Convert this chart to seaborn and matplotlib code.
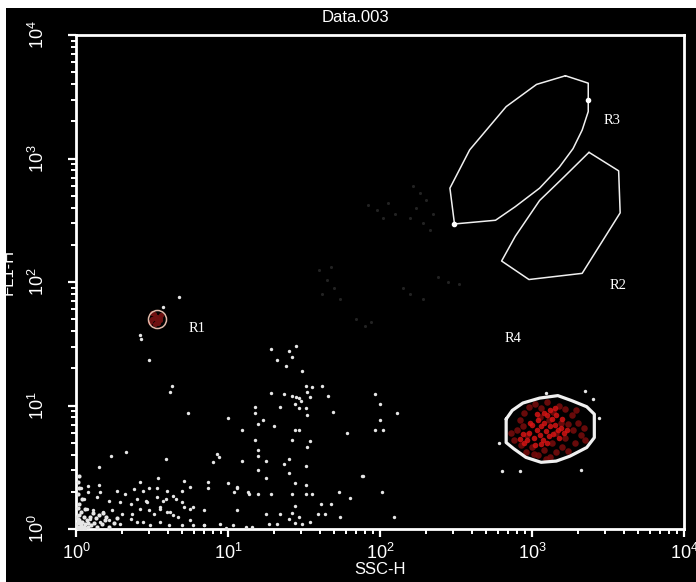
import numpy as np
import pandas as pd
import matplotlib
matplotlib.use("Agg")
import matplotlib.pyplot as plt
from matplotlib.patches import Rectangle
import seaborn as sns

# Events as (log10 SSC-H, log10 FL1-H)
corner_events = [
    (0.01, 0.02), (0.02, 0.05), (0.01, 0.08), (0.03, 0.03), (0.05, 0.02), (0.04, 0.06),
    (0.02, 0.11), (0.06, 0.04), (0.08, 0.02), (0.03, 0.14), (0.01, 0.17), (0.07, 0.07),
    (0.10, 0.03), (0.05, 0.10), (0.12, 0.05), (0.02, 0.20), (0.09, 0.10), (0.14, 0.02),
    (0.04, 0.24), (0.01, 0.28), (0.02, 0.33), (0.01, 0.38), (0.02, 0.43), (0.13, 0.09),
    (0.17, 0.04), (0.11, 0.13), (0.06, 0.16), (0.19, 0.07), (0.22, 0.02), (0.15, 0.11),
    (0.01, 0.01), (0.03, 0.01), (0.00, 0.04), (0.00, 0.10), (0.06, 0.01), (0.08, 0.05),
    (0.25, 0.05), (0.20, 0.10), (0.18, 0.13), (0.27, 0.09), (0.04, 0.02), (0.02, 0.07),
]

low_events = [
    (0.23, 0.59), (0.33, 0.62), (0.15, 0.50), (0.59, 0.57), (0.90, 0.54), (0.94, 0.58),
    (0.93, 0.61), (0.54, 0.41), (0.42, 0.38), (0.71, 0.39), (0.87, 0.38), (0.87, 0.33),
    (0.08, 0.35), (0.15, 0.36), (0.03, 0.33), (1.06, 0.33),
    (0.08, 0.30), (0.16, 0.30), (0.27, 0.31), (0.32, 0.28), (0.38, 0.32), (0.44, 0.31),
    (0.48, 0.33), (0.53, 0.33), (0.60, 0.31), (0.64, 0.27), (0.70, 0.31), (0.75, 0.34),
    (0.05, 0.24), (0.14, 0.26), (0.22, 0.23), (0.29, 0.22), (0.36, 0.20), (0.40, 0.24),
    (0.47, 0.22), (0.53, 0.26), (0.59, 0.24), (0.66, 0.24), (0.71, 0.18), (0.77, 0.18),
    (0.07, 0.16), (0.11, 0.15), (0.18, 0.14), (0.24, 0.15), (0.30, 0.12), (0.37, 0.12),
    (0.42, 0.16), (0.48, 0.15), (0.51, 0.12), (0.55, 0.18), (0.60, 0.14), (0.64, 0.11),
    (0.75, 0.16), (0.84, 0.15),
    (0.09, 0.08), (0.16, 0.06), (0.22, 0.07), (0.29, 0.04), (0.36, 0.08), (0.40, 0.06),
    (0.44, 0.06), (0.49, 0.03), (0.55, 0.06), (0.61, 0.03), (0.70, 0.03), (0.77, 0.03),
    (0.84, 0.03), (0.95, 0.04), (1.03, 0.03), (1.12, 0.02),
    (0.46, 0.23), (0.55, 0.16), (0.62, 0.14), (0.67, 0.10), (0.75, 0.07), (0.84, 0.03),
    (0.70, 0.22), (0.57, 0.23),
]

mid_events = [
    (1.28, 1.46), (1.40, 1.44), (1.45, 1.48), (1.42, 1.39), (1.32, 1.37), (1.38, 1.32),
    (1.49, 1.28), (1.51, 1.16), (1.55, 1.15), (1.62, 1.16), (1.28, 1.10), (1.52, 1.11),
    (1.54, 1.07), (1.37, 1.09), (1.42, 1.08), (1.45, 1.07), (1.47, 1.06), (1.48, 1.04),
    (1.66, 1.08), (1.18, 0.99), (1.34, 0.99), (1.44, 1.01), (1.47, 0.98), (1.51, 0.98),
    (1.69, 0.95), (1.18, 0.94), (1.52, 0.92), (1.00, 0.90), (1.23, 0.88), (1.20, 0.85),
    (1.30, 0.83), (1.09, 0.80), (1.44, 0.80), (1.47, 0.80), (1.78, 0.78), (1.18, 0.72),
    (1.42, 0.72), (1.54, 0.71), (1.52, 0.66), (1.20, 0.64), (1.20, 0.59), (1.09, 0.55),
    (1.25, 0.55), (1.40, 0.57), (1.37, 0.53), (1.51, 0.51), (1.20, 0.48), (1.40, 0.45),
    (1.88, 0.43), (1.25, 0.41), (1.00, 0.37), (1.44, 0.37), (1.06, 0.34), (1.04, 0.30),
    (1.51, 0.36), (1.13, 0.30), (1.14, 0.28), (1.20, 0.28), (1.28, 0.28), (1.42, 0.28),
    (1.51, 0.28), (1.55, 0.28), (1.73, 0.30), (1.80, 0.25), (2.01, 0.30), (1.06, 0.15),
    (1.61, 0.20), (1.68, 0.20), (1.44, 0.19), (1.25, 0.12), (1.34, 0.12), (1.42, 0.13),
    (1.47, 0.10), (1.59, 0.12), (1.64, 0.12), (1.74, 0.10), (1.40, 0.08), (1.44, 0.05),
    (1.27, 0.04), (1.32, 0.04), (1.49, 0.04), (1.54, 0.06), (1.16, 0.02), (0.99, 0.01),
    (1.97, 1.09), (2.00, 1.01), (2.00, 0.88), (1.97, 0.80), (2.02, 0.80), (2.11, 0.94),
    (2.09, 0.10), (0.63, 1.16), (0.62, 1.11), (0.74, 0.94), (1.89, 0.43),
    (0.57, 1.80), (0.68, 1.88), (0.42, 1.57), (0.43, 1.54), (0.48, 1.37),
    (3.35, 1.12), (3.40, 1.05), (3.44, 0.90), (2.78, 0.70), (2.80, 0.47), (2.92, 0.47),
    (3.32, 0.48), (3.09, 1.10),
]

faint_events = [
    (2.22, 2.78), (2.26, 2.72), (2.30, 2.66), (2.24, 2.60), (2.35, 2.55), (2.28, 2.48),
    (2.33, 2.42), (2.20, 2.52), (1.92, 2.62), (1.98, 2.58), (2.05, 2.64), (2.10, 2.55),
    (2.02, 2.52), (1.60, 2.10), (1.65, 2.02), (1.70, 1.95), (1.62, 1.90), (1.74, 1.86),
    (1.68, 2.12), (2.15, 1.95), (2.20, 1.90), (2.28, 1.86), (1.84, 1.70), (1.90, 1.64),
    (1.94, 1.68), (2.38, 2.04), (2.45, 2.00), (2.52, 1.98),
]

r1_events = [
    (0.50, 1.70), (0.53, 1.72), (0.55, 1.69), (0.51, 1.74), (0.54, 1.67), (0.52, 1.71),
    (0.49, 1.68), (0.56, 1.73), (0.52, 1.66), (0.50, 1.75), (0.55, 1.71), (0.53, 1.69),
]

r4_dim_events = [
    (2.88, 0.72), (2.90, 0.80), (2.92, 0.88), (2.93, 0.68), (2.95, 0.94), (2.96, 0.62),
    (2.98, 0.99), (3.00, 0.66), (3.02, 1.01), (3.04, 0.60), (3.06, 0.98), (3.08, 0.64),
    (3.10, 1.03), (3.12, 0.58), (3.14, 0.95), (3.16, 0.62), (3.18, 1.00), (3.20, 0.66),
    (3.22, 0.97), (3.24, 0.63), (3.26, 0.92), (3.28, 0.70), (3.30, 0.86), (3.32, 0.76),
    (3.34, 0.82), (3.27, 0.80), (3.22, 0.74), (3.19, 0.86), (3.13, 0.70), (2.97, 0.76),
    (2.94, 0.83), (3.05, 0.91), (3.11, 0.88), (3.16, 0.78), (3.24, 0.85), (3.29, 0.96),
    (3.35, 0.72), (2.86, 0.78), (3.01, 0.61), (3.09, 0.57),
]

r4_bright_events = [
    (2.98, 0.78), (3.00, 0.84), (3.01, 0.74), (3.03, 0.80), (3.04, 0.88), (3.05, 0.76),
    (3.06, 0.83), (3.07, 0.72), (3.08, 0.86), (3.09, 0.79), (3.10, 0.92), (3.11, 0.75),
    (3.12, 0.83), (3.13, 0.89), (3.14, 0.77), (3.15, 0.84), (3.16, 0.92), (3.17, 0.80),
    (3.18, 0.74), (3.19, 0.82), (3.20, 0.89), (2.92, 0.73), (2.94, 0.77), (2.95, 0.70),
    (2.97, 0.72), (3.02, 0.68), (3.06, 0.69), (3.10, 0.70), (3.12, 0.96), (3.15, 0.98),
    (3.08, 0.94), (3.21, 0.78), (3.03, 0.93), (2.99, 0.86), (3.23, 0.80),
]

# Gate vertices (log10 SSC-H, log10 FL1-H)
gate_r3 = [(3.22, 3.67), (3.37, 3.61), (3.37, 3.47), (3.37, 3.38), (3.33, 3.23),
           (3.27, 3.08), (3.18, 2.93), (3.05, 2.76), (2.89, 2.61), (2.76, 2.50),
           (2.49, 2.47), (2.46, 2.76), (2.59, 3.07), (2.83, 3.42), (3.03, 3.60)]
gate_r3_handles = [(3.37, 3.47), (2.49, 2.47)]
gate_r2 = [(3.375, 3.05), (3.57, 2.90), (3.58, 2.56), (3.33, 2.07), (2.98, 2.02),
           (2.80, 2.17), (2.89, 2.37), (3.05, 2.66), (3.21, 2.85)]
gate_r4 = [(2.83, 0.89), (2.87, 0.96), (2.94, 1.02), (3.05, 1.06), (3.17, 1.08),
           (3.26, 1.04), (3.36, 0.99), (3.41, 0.93), (3.41, 0.74), (3.36, 0.66),
           (3.25, 0.59), (3.16, 0.55), (3.06, 0.54), (2.96, 0.58), (2.88, 0.65),
           (2.83, 0.70)]
gate_r1_center = (0.53, 1.70)

region_labels = ["R1", "R2", "R3", "R4"]
region_label_pos = [(0.74, 1.62), (3.51, 1.97), (3.47, 3.31), (2.82, 1.54)]

decade_ticks = [0, 1, 2, 3, 4]


def to_frame(pairs):
    df = pd.DataFrame(pairs, columns=["SSC-H", "FL1-H"])
    return 10.0 ** df


sns.set_style("dark", {"axes.facecolor": "black", "figure.facecolor": "white"})
plt.rcParams["font.family"] = ["Liberation Sans", "DejaVu Sans"]

fig = plt.figure(figsize=(6.96, 5.82), dpi=100, facecolor="white")
fig.patches.append(Rectangle((6 / 696, 0), 1, 1 - 8 / 582, transform=fig.transFigure,
                             facecolor="black", edgecolor="none", zorder=-10))
ax = fig.add_axes([76 / 696, 1 - 529 / 582, (684 - 76) / 696, (529 - 35) / 582])
ax.set_facecolor("black")

ax.set_xscale("log")
ax.set_yscale("log")

# Faint background events
sns.scatterplot(data=to_frame(faint_events), x="SSC-H", y="FL1-H", ax=ax,
                color="#222222", s=5, linewidth=0, legend=False)

# White events
for pairs, size in [(corner_events, 9), (low_events, 6), (mid_events, 6)]:
    sns.scatterplot(data=to_frame(pairs), x="SSC-H", y="FL1-H", ax=ax,
                    color="#e6e6e6", s=size, linewidth=0, legend=False, zorder=3)

# Red populations
sns.scatterplot(data=to_frame(r4_dim_events), x="SSC-H", y="FL1-H", ax=ax,
                color="#7a0c0c", s=22, alpha=0.85, linewidth=0, legend=False, zorder=3)
sns.scatterplot(data=to_frame(r4_bright_events), x="SSC-H", y="FL1-H", ax=ax,
                color="#d41414", s=16, alpha=0.85, linewidth=0, legend=False, zorder=4)
sns.scatterplot(data=to_frame(r1_events), x="SSC-H", y="FL1-H", ax=ax,
                color="#6e1010", s=14, linewidth=0, legend=False, zorder=3)

# Gates
for verts, lw in [(gate_r3, 1.1), (gate_r2, 1.1), (gate_r4, 2.3)]:
    g = 10.0 ** np.array(verts + verts[:1])
    ax.plot(g[:, 0], g[:, 1], color="#f0f0f0", lw=lw, zorder=5)
h = 10.0 ** np.array(gate_r3_handles)
ax.plot(h[:, 0], h[:, 1], "o", color="white", ms=3, zorder=6)
c = 10.0 ** np.array(gate_r1_center)
ax.plot([c[0]], [c[1]], "o", ms=13, mfc="none", mec="#e0b8a8", mew=1.1, zorder=6)

for name, (lx, ly) in zip(region_labels, region_label_pos):
    ax.text(10 ** lx, 10 ** ly, name, color="white", fontsize=10.5,
            family=["Liberation Serif", "DejaVu Serif"], va="center", ha="left", zorder=7)

ax.set_xlim(1, 1e4)
ax.set_ylim(1, 1e4)

tick_vals = [10.0 ** d for d in decade_ticks]
tick_text = [r"$\mathregular{10^{%d}}$" % d for d in decade_ticks]
ax.set_xticks(tick_vals)
ax.set_xticklabels(tick_text)
ax.set_yticks(tick_vals)
ax.set_yticklabels(tick_text, rotation=90, va="center")
ax.xaxis.set_minor_locator(matplotlib.ticker.LogLocator(base=10, subs=np.arange(2, 10)))
ax.yaxis.set_minor_locator(matplotlib.ticker.LogLocator(base=10, subs=np.arange(2, 10)))
ax.xaxis.set_minor_formatter(matplotlib.ticker.NullFormatter())
ax.yaxis.set_minor_formatter(matplotlib.ticker.NullFormatter())

ax.tick_params(which="major", direction="out", length=6, width=1.6, color="white",
               labelcolor="white", labelsize=13, bottom=True, left=True)
ax.tick_params(which="minor", direction="out", length=3.5, width=1.4, color="white",
               bottom=True, left=True)
ax.tick_params(axis="x", which="major", pad=4)
ax.tick_params(axis="y", which="major", pad=14)

for sp in ax.spines.values():
    sp.set_color("white")
    sp.set_linewidth(2)
    sp.set_visible(True)
ax.grid(False)

ax.set_xlabel("SSC-H", color="white", fontsize=12)
ax.set_ylabel("FL1-H", color="white", fontsize=12)
ax.xaxis.set_label_coords(0.50, -0.066)
ax.yaxis.set_label_coords(-0.100, 0.52)
fig.text(355 / 696, 1 - 18 / 582, "Data.003", color="white", fontsize=12,
         ha="center", va="center")

fig.savefig("out.png", dpi=100, facecolor=fig.get_facecolor())
